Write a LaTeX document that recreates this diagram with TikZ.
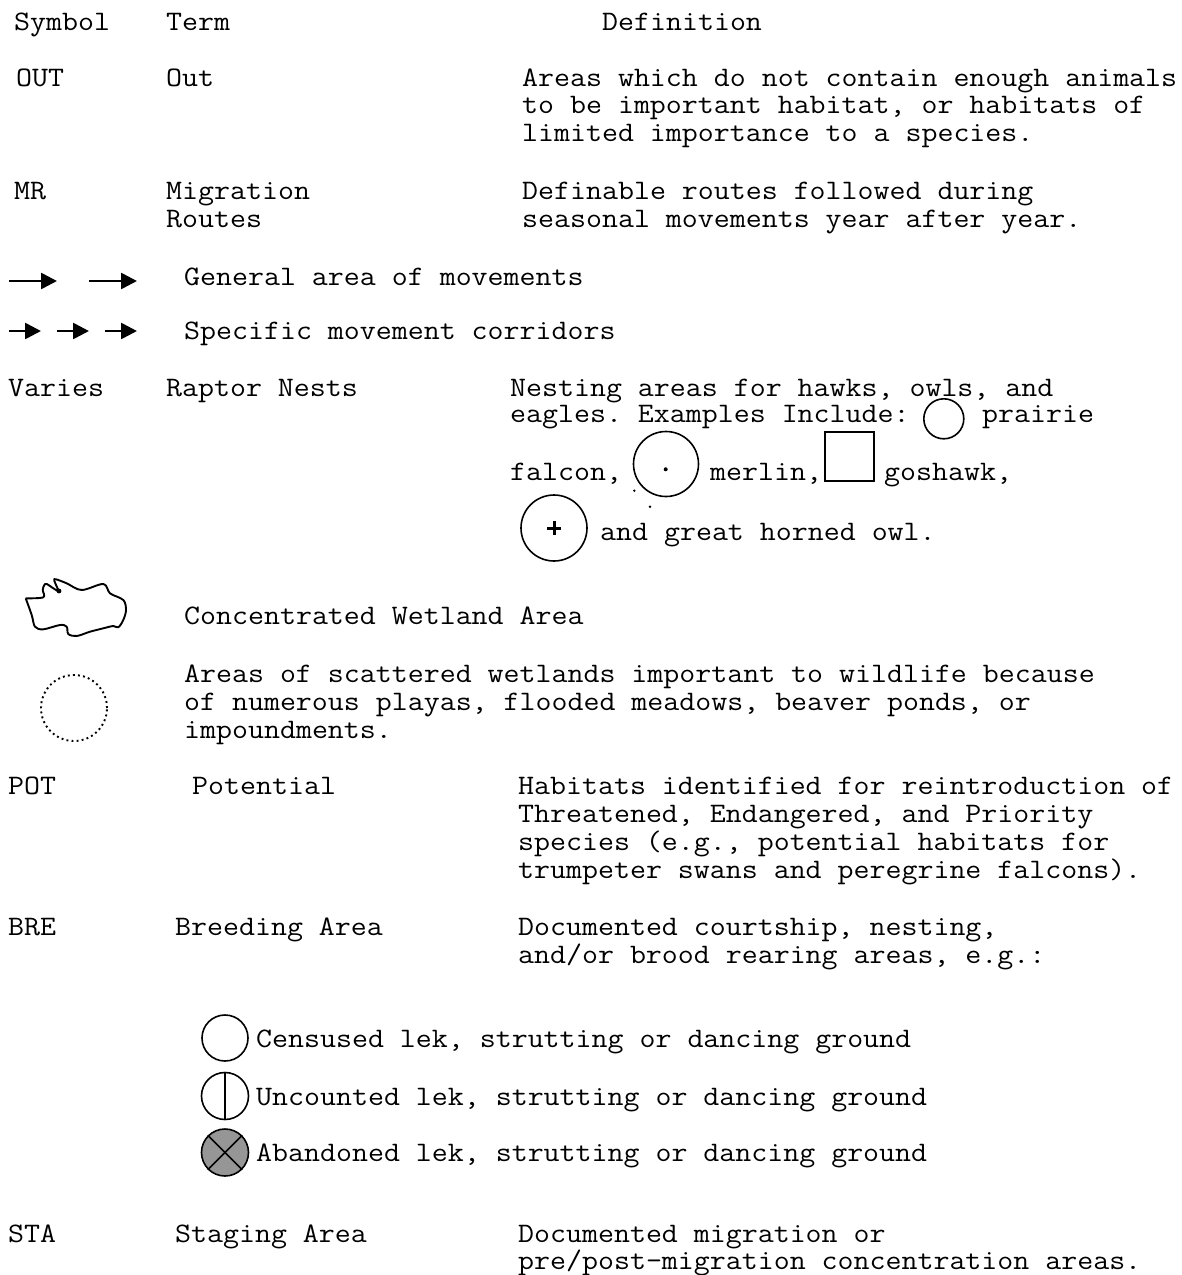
\documentclass[tikz,border=0pt]{standalone}
\usepackage{fontspec}
\setmonofont{Latin Modern Mono}[FakeStretch=1.1]
\usetikzlibrary{arrows.meta}
\newcommand\legfont{\fontsize{28.2}{30}\ttfamily\frenchspacing\selectfont}
\begin{document}
\begin{tikzpicture}[x=1pt,y=-1pt,
  txt/.style={anchor=base west, inner sep=0pt, font=\legfont, text height=17pt, text depth=5pt},
  arw/.style={line width=2.6pt, -{Triangle[length=16pt,width=16pt]}},
  sym/.style={circle, draw, line width=1.6pt, inner sep=0pt},
  boxsym/.style={rectangle, draw, line width=1.6pt, inner sep=0pt}]
\useasboundingbox (0,0) rectangle (1182,1275);

% header
\node[txt] (hSym) at (14,30) {Symbol};
\node[txt] (hTerm) at (166,30) {Term};
\node[txt] (hDef) at (602,30) {Definition};

% OUT
\node[txt] (outS) at (16,86) {OUT};
\node[txt] (outT) at (166,86) {Out};
\node[txt] (outD1) at (522,86) {Areas which do not contain enough animals};
\node[txt] (outD2) at (522,113.5) {to be important habitat, or habitats of};
\node[txt] (outD3) at (522,141) {limited importance to a species.};

% MR
\node[txt] (mrS) at (14,199) {MR};
\node[txt] (mrT1) at (166,199) {Migration};
\node[txt] (mrT2) at (166,227) {Routes};
\node[txt] (mrD1) at (522,199) {Definable routes followed during};
\node[txt] (mrD2) at (522,227) {seasonal movements year after year.};

% arrows
\coordinate (g1s) at (9,281); \coordinate (g1e) at (57,281);
\coordinate (g2s) at (89,281); \coordinate (g2e) at (137,281);
\draw[arw] (g1s) -- (g1e);
\draw[arw] (g2s) -- (g2e);
\node[txt] (genT) at (184,285) {General area of movements};
\coordinate (s1s) at (9,331); \coordinate (s1e) at (41,331);
\coordinate (s2s) at (57,331); \coordinate (s2e) at (89,331);
\coordinate (s3s) at (105,331); \coordinate (s3e) at (137,331);
\draw[arw] (s1s) -- (s1e);
\draw[arw] (s2s) -- (s2e);
\draw[arw] (s3s) -- (s3e);
\node[txt] (specT) at (184,339) {Specific movement corridors};

% Raptor nests
\node[txt] (rnS) at (8,396) {Varies};
\node[txt] (rnT) at (166,396) {Raptor Nests};
\node[txt] (rnD1) at (510,396) {Nesting areas for hawks, owls, and};
\node[txt] (rnD2) at (510,422.5) {eagles. Examples Include:};
\node[sym, minimum size=40pt] (prairie) at (943.8,418.8) {};
\node[txt] (rnD2b) at (982,422.5) {prairie};
\node[txt] (rnD3) at (510,480) {falcon,};
\node[sym, minimum size=65pt] (merlin) at (666,464) {};
\fill (665.7,469.3) circle (2pt);
\fill (634.3,490.7) circle (1.3pt);
\fill (650,506.7) circle (1.3pt);
\node[txt] (rnD3b) at (710,480) {merlin,};
\node[boxsym, minimum width=49pt, minimum height=49pt] (goshawk) at (849.5,456.5) {};
\node[txt] (rnD3c) at (884,480) {goshawk,};
\node[sym, minimum size=66pt] (owl) at (554,528) {};
\draw[line width=3pt] ([xshift=-7pt]owl.center) -- ([xshift=7pt]owl.center);
\draw[line width=3pt] ([yshift=-7pt]owl.center) -- ([yshift=7pt]owl.center);
\node[txt] (rnD4) at (600,540) {and great horned owl.};

% concentrated wetland
\draw[line width=1.9pt, line join=round]
  plot[smooth, tension=0.55] coordinates {(25.7,598.3) (43.3,597.3) (42.7,590) (44.3,585) (46.7,584)
  (53.3,588.3) (59.3,592)}
  plot[smooth, tension=0.55] coordinates {(59.3,592) (54.3,580.7) (56,579.3) (66.7,583.3) (81.7,590) (103.3,584)
  (110,593.3) (123.3,600) (126,610) (123.3,620) (118.3,627.3) (113.3,626) (103.3,628.3)
  (90,631.7) (76.7,636) (68.3,634) (66.7,626.7) (60,625) (43.3,629.3) (35,626.7)
  (31.7,615) (25.7,598.3)};
\fill (59,591) circle (2.4pt);
\node[txt] (cwT) at (184,624) {Concentrated Wetland Area};

% scattered wetlands
\node[circle, minimum size=66pt, inner sep=0pt, draw, line width=1.9pt,
  dash pattern=on 1.9pt off 3.2pt] (scat) at (74,708) {};
\node[txt] (scD1) at (184,682) {Areas of scattered wetlands important to wildlife because};
\node[txt] (scD2) at (184,710) {of numerous playas, flooded meadows, beaver ponds, or};
\node[txt] (scD3) at (184,738) {impoundments.};

% POT
\node[txt] (potS) at (8,794) {POT};
\node[txt] (potT) at (192,794) {Potential};
\node[txt] (potD1) at (518,794) {Habitats identified for reintroduction of};
\node[txt] (potD2) at (518,822) {Threatened, Endangered, and Priority};
\node[txt] (potD3) at (518,850) {species (e.g., potential habitats for};
\node[txt] (potD4) at (518,878) {trumpeter swans and peregrine falcons).};

% BRE
\node[txt] (breS) at (8,935) {BRE};
\node[txt] (breT) at (175,935) {Breeding Area};
\node[txt] (breD1) at (518,935) {Documented courtship, nesting,};
\node[txt] (breD2) at (518,963) {and/or brood rearing areas, e.g.:};

\node[sym, minimum size=46pt] (cens) at (225,1038) {};
\node[txt] (censT) at (256,1047) {Censused lek, strutting or dancing ground};
\node[sym, minimum size=47pt] (unc) at (225,1096) {};
\draw[line width=1.6pt] (unc.north) -- (unc.south);
\node[txt] (uncT) at (256,1105) {Uncounted lek, strutting or dancing ground};
\node[sym, minimum size=47pt, fill={rgb,255:red,150;green,150;blue,150}] (aban) at (225,1152.5) {};
\draw[line width=1.6pt] (aban.north west) -- (aban.south east);
\draw[line width=1.6pt] (aban.north east) -- (aban.south west);
\node[txt] (abanT) at (256,1161) {Abandoned lek, strutting or dancing ground};

% STA
\node[txt] (staS) at (8,1242) {STA};
\node[txt] (staT) at (175,1242) {Staging Area};
\node[txt] (staD1) at (518,1242) {Documented migration or};
\node[txt] (staD2) at (518,1269) {pre/post-migration concentration areas.};
\end{tikzpicture}
\end{document}
